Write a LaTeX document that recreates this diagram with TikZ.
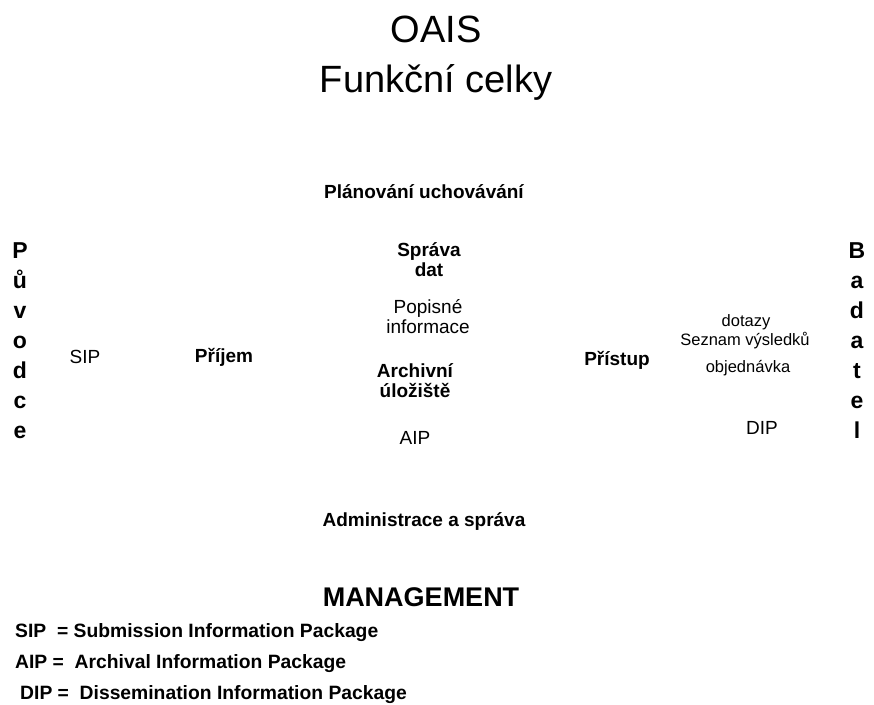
\documentclass[tikz,border=0pt]{standalone}
\usepackage{fontspec}
\setmainfont{Liberation Sans}
\tikzset{
  lbl/.style={inner sep=0pt, align=center, font=\fontsize{19}{20}\selectfont},
  blbl/.style={lbl, font=\fontsize{19}{20}\selectfont\bfseries},
  small/.style={inner sep=0pt, align=center, font=\fontsize{16.5}{20}\selectfont},
  vert/.style={inner sep=0pt, align=center, font=\fontsize{23}{30}\selectfont\bfseries},
  legend/.style={inner sep=0pt, anchor=west, font=\fontsize{19.3}{20}\selectfont\bfseries},
}
\begin{document}
\begin{tikzpicture}[x=1pt,y=-1pt]
\useasboundingbox (0,0) rectangle (874,704);
\node[inner sep=0pt, align=center, font=\fontsize{38}{50}\selectfont] (title) at (436,58) {OAIS\\Funkční celky};
\node[blbl] (plan) at (424,192) {Plánování uchovávání};
\node[vert] (puv) at (20,341) {P\\ů\\v\\o\\d\\c\\e};
\node[vert] (bad) at (857,341) {B\\a\\d\\a\\t\\e\\l};
\node[lbl] (sip) at (85,357) {SIP};
\node[blbl] (prijem) at (224,357) {Příjem};
\node[blbl] (sprava) at (429,260) {Správa\\dat};
\node[lbl] (popis) at (428,317) {Popisné\\informace};
\node[blbl] (arch) at (415,381) {Archivní\\úložiště};
\node[lbl] (aip) at (415,438) {AIP};
\node[blbl] (pristup) at (617,360) {Přístup};
\node[small] (dotazy) at (746,322) {dotazy};
\node[small] (seznam) at (745,341) {Seznam výsledků};
\node[small] (objed) at (748,368) {objednávka};
\node[lbl] (dip) at (762,428) {DIP};
\node[blbl] (admin) at (424,521) {Administrace a správa};
\node[inner sep=0pt, font=\fontsize{27}{30}\selectfont\bfseries] (mgmt) at (421,597) {MANAGEMENT};
\node[legend] (l1) at (15,633) {SIP\ \ = Submission Information Package};
\node[legend] (l2) at (15,664) {AIP =\ \ Archival Information Package};
\node[legend] (l3) at (20,695) {DIP =\ \ Dissemination Information Package};
\end{tikzpicture}
\end{document}
